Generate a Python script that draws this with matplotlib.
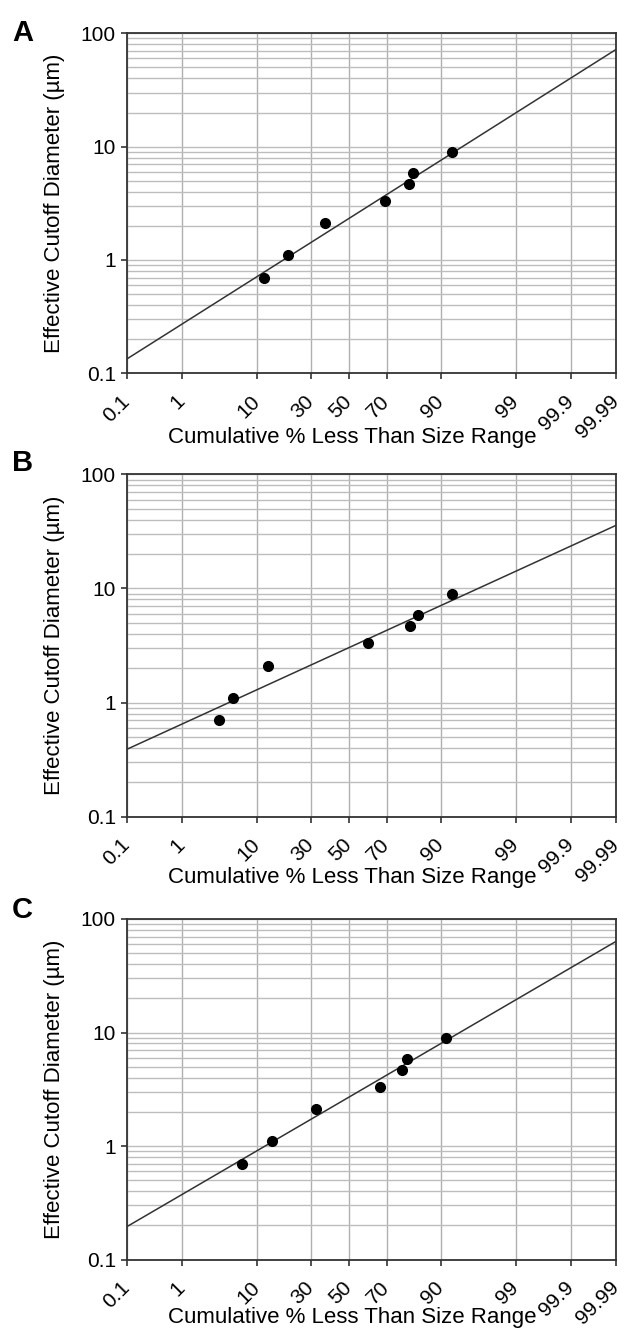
import numpy as np
import matplotlib
matplotlib.use("Agg")
import matplotlib.pyplot as plt
from matplotlib.ticker import FixedLocator, FixedFormatter, LogLocator, NullFormatter
from statistics import NormalDist

plt.rcParams['font.family'] = ['Liberation Sans', 'DejaVu Sans']

# effective cutoff diameters (um), same for all three panels
diameter = [0.7, 1.1, 2.1, 3.3, 4.7, 5.9, 9.0]

# cumulative % less than size range, per panel
cum_a = [11.9, 19.8, 37.2, 69.1, 79.8, 81.4, 92.5]
cum_b = [3.5, 5.4, 12.9, 60.3, 80.2, 83.3, 92.5]
cum_c = [6.8, 14.1, 32.4, 66.6, 77.0, 79.0, 91.1]

# fitted line, value at 0.1 % and at 99.99 %
fit_x = [0.1, 99.99]
fit_a = [0.134, 72.0]
fit_b = [0.39, 35.7]
fit_c = [0.195, 63.5]

xticks = [0.1, 1, 10, 30, 50, 70, 90, 99, 99.9, 99.99]
xticklabels = ['0.1', '1', '10', '30', '50', '70', '90', '99', '99.9', '99.99']
panel_names = ['A', 'B', 'C']

nd = NormalDist()
_ppf = np.vectorize(nd.inv_cdf, otypes=[float])
_cdf = np.vectorize(nd.cdf, otypes=[float])


def _fwd(p):
    p = np.clip(np.asarray(p, dtype=float) / 100.0, 1e-9, 1 - 1e-9)
    return _ppf(p)


def _inv(z):
    return _cdf(np.asarray(z, dtype=float)) * 100.0


fig = plt.figure(figsize=(6.24, 13.3), dpi=100)

# axes boxes in pixels: left, top, bottom, x-label gap, panel letter centre
boxes = [(127, 33.3, 373.3, 64, 33),
         (127, 474.3, 816.7, 61, 463),
         (127, 919.0, 1259.5, 58, 910)]
W, H = 624.0, 1330.0
AW = 489.0

panels = [(cum_a, fit_a), (cum_b, fit_b), (cum_c, fit_c)]

for i, ((cum, fit), (l, t, b, gap, lab_y)) in enumerate(zip(panels, boxes)):
    ah = b - t
    ax = fig.add_axes([l / W, 1 - b / H, AW / W, ah / H])
    ax.set_xscale('function', functions=(_fwd, _inv))
    ax.set_yscale('log')
    ax.set_xlim(0.1, 99.99)
    ax.set_ylim(0.1, 100)

    ax.xaxis.set_major_locator(FixedLocator(xticks))
    ax.xaxis.set_major_formatter(FixedFormatter(xticklabels))
    ax.xaxis.set_minor_locator(FixedLocator([]))
    ax.yaxis.set_major_locator(FixedLocator([0.1, 1, 10, 100]))
    ax.yaxis.set_major_formatter(FixedFormatter(['0.1', '1', '10', '100']))
    ax.yaxis.set_minor_locator(LogLocator(base=10, subs=np.arange(2, 10)))
    ax.yaxis.set_minor_formatter(NullFormatter())

    ax.grid(True, which='major', axis='x', color='#b0b0b0', lw=1.0)
    ax.grid(True, which='both', axis='y', color='#bdbdbd', lw=1.0)
    ax.set_axisbelow(True)

    ax.tick_params(axis='both', which='major', direction='out', length=4,
                   width=1.2, color='#333333', labelsize=15)
    ax.tick_params(axis='y', which='major', pad=4)
    ax.tick_params(axis='x', which='major', pad=14)
    ax.tick_params(axis='y', which='minor', length=0)
    for lab in ax.get_xticklabels():
        lab.set_rotation(45)
        lab.set_ha('right')
        lab.set_va('center')
        lab.set_rotation_mode('anchor')
    for sp in ax.spines.values():
        sp.set_color('#333333')
        sp.set_linewidth(1.3)

    ax.plot(fit_x, fit, color='#333333', lw=1.1, zorder=3)
    ax.plot(cum, diameter, 'o', color='black', ms=7, zorder=4)

    ax.set_xlabel('Cumulative % Less Than Size Range', fontsize=16)
    ax.xaxis.set_label_coords((352 - l) / AW, -gap / ah)
    ax.xaxis.label.set_va('center')
    ax.set_ylabel('Effective Cutoff Diameter (\u00b5m)', fontsize=16)
    ax.yaxis.set_label_coords((65 - l) / AW, 0.5)

    fig.text(12 / W, 1 - lab_y / H, panel_names[i], fontsize=21,
             fontweight='bold', ha='left', va='center')

fig.savefig('out.png', dpi=100)
